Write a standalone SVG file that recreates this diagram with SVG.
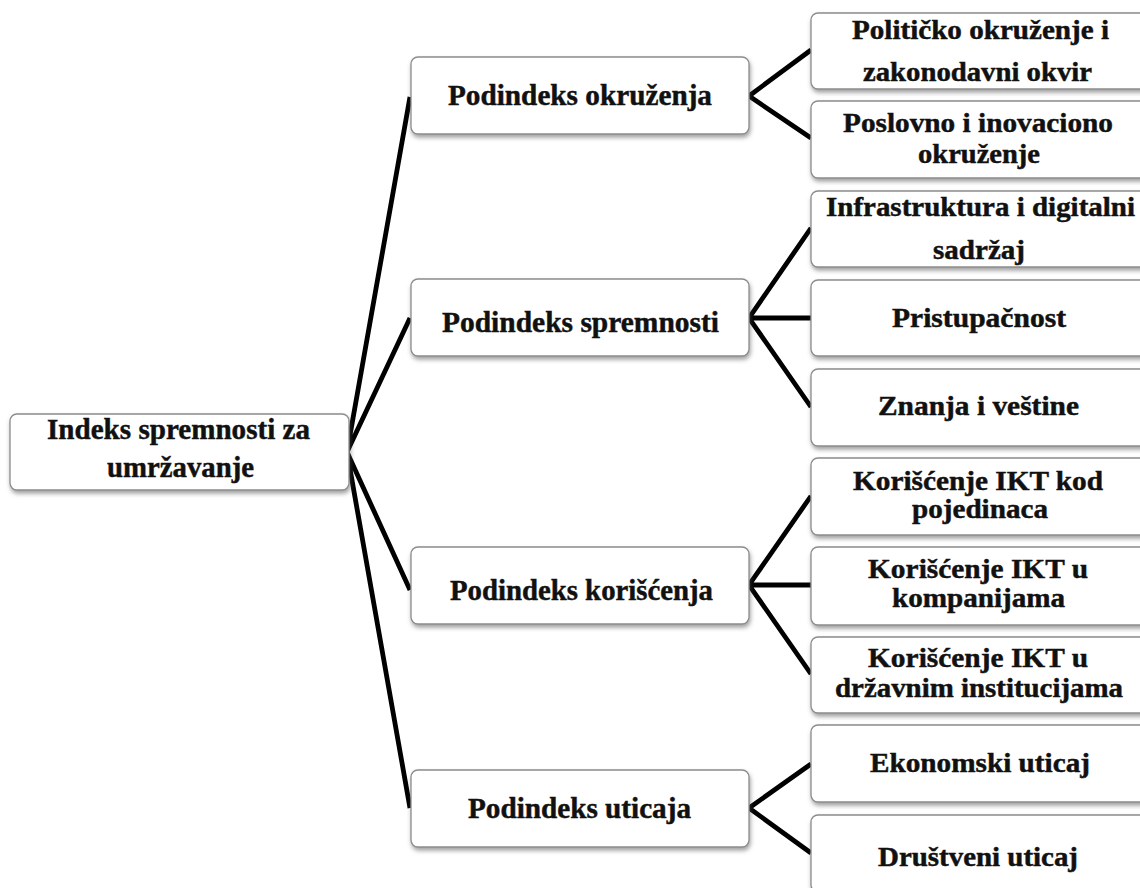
<svg xmlns="http://www.w3.org/2000/svg" width="1140" height="888" viewBox="0 0 1140 888">
<defs>
<filter id="sh" x="-5%" y="-10%" width="110%" height="130%">
<feDropShadow dx="1" dy="3" stdDeviation="2" flood-color="#555" flood-opacity="0.55"/>
</filter>
<style>
.box{fill:#fff;stroke:#8c8c8c;stroke-width:1.3;filter:url(#sh)}
.t{font-family:"Liberation Serif","Times New Roman",serif;font-weight:bold;fill:#111;stroke:#111;stroke-width:0.45}
.m{font-size:29px}
.r{font-size:27px}
.c{stroke:#000;stroke-width:4.8;fill:none;stroke-linejoin:miter}
</style>
</defs>
<rect width="1140" height="888" fill="#fff"/>
<g id="connectors">
<path class="c" d="M410,97 L347,452 L410,318 M347,452 L410,590 M347,452 L410,808"/>
<path class="c" d="M811,50 L749,96 L811,138"/>
<path class="c" d="M811,228 L749,318 L811,407 M749,318 L811,318"/>
<path class="c" d="M811,496 L749,585 L811,674 M749,585 L811,585"/>
<path class="c" d="M811,764 L749,808 L811,853"/>
</g>
<g id="root">
<rect class="box" x="10" y="414" width="339" height="76" rx="7"/>
<text class="t m" x="47" y="439" textLength="263" lengthAdjust="spacingAndGlyphs">Indeks spremnosti za</text>
<text class="t m" x="107" y="477" textLength="147" lengthAdjust="spacingAndGlyphs">umržavanje</text>
</g>
<g id="n-okruzenja">
<rect class="box" x="411" y="57" width="338" height="77" rx="7"/>
<text class="t m" x="448" y="105" textLength="264" lengthAdjust="spacingAndGlyphs">Podindeks okruženja</text>
</g>
<g id="n-spremnosti">
<rect class="box" x="411" y="279" width="338" height="77" rx="7"/>
<text class="t m" x="442" y="332" textLength="277" lengthAdjust="spacingAndGlyphs">Podindeks spremnosti</text>
</g>
<g id="n-koriscenja">
<rect class="box" x="411" y="547" width="338" height="77" rx="7"/>
<text class="t m" x="450" y="600" textLength="263" lengthAdjust="spacingAndGlyphs">Podindeks korišćenja</text>
</g>
<g id="n-uticaja">
<rect class="box" x="411" y="770" width="338" height="77" rx="7"/>
<text class="t m" x="468" y="818" textLength="223" lengthAdjust="spacingAndGlyphs">Podindeks uticaja</text>
</g>
<g id="r-politicko">
<rect class="box" x="811" y="13" width="345" height="76" rx="7"/>
<text class="t r" x="852" y="39" textLength="257" lengthAdjust="spacingAndGlyphs">Političko okruženje i</text>
<text class="t r" x="863" y="81" textLength="229" lengthAdjust="spacingAndGlyphs">zakonodavni okvir</text>
</g>
<g id="r-poslovno">
<rect class="box" x="811" y="101" width="345" height="77" rx="7"/>
<text class="t r" x="843" y="132" textLength="270" lengthAdjust="spacingAndGlyphs">Poslovno i inovaciono</text>
<text class="t r" x="918" y="163" textLength="122" lengthAdjust="spacingAndGlyphs">okruženje</text>
</g>
<g id="r-infrastruktura">
<rect class="box" x="811" y="191" width="345" height="76" rx="7"/>
<text class="t r" x="826" y="216" textLength="309" lengthAdjust="spacingAndGlyphs">Infrastruktura i digitalni</text>
<text class="t r" x="933" y="259" textLength="92" lengthAdjust="spacingAndGlyphs">sadržaj</text>
</g>
<g id="r-pristupacnost">
<rect class="box" x="811" y="280" width="345" height="76" rx="7"/>
<text class="t r" x="892" y="327" textLength="174" lengthAdjust="spacingAndGlyphs">Pristupačnost</text>
</g>
<g id="r-znanja">
<rect class="box" x="811" y="369" width="345" height="77" rx="7"/>
<text class="t r" x="878" y="415" textLength="201" lengthAdjust="spacingAndGlyphs">Znanja i veštine</text>
</g>
<g id="r-pojedinci">
<rect class="box" x="811" y="458" width="345" height="77" rx="7"/>
<text class="t r" x="853" y="490" textLength="250" lengthAdjust="spacingAndGlyphs">Korišćenje IKT kod</text>
<text class="t r" x="912" y="518" textLength="136" lengthAdjust="spacingAndGlyphs">pojedinaca</text>
</g>
<g id="r-kompanije">
<rect class="box" x="811" y="547" width="345" height="78" rx="7"/>
<text class="t r" x="868" y="578" textLength="220" lengthAdjust="spacingAndGlyphs">Korišćenje IKT u</text>
<text class="t r" x="892" y="607" textLength="173" lengthAdjust="spacingAndGlyphs">kompanijama</text>
</g>
<g id="r-drzava">
<rect class="box" x="811" y="637" width="345" height="76" rx="7"/>
<text class="t r" x="868" y="667" textLength="220" lengthAdjust="spacingAndGlyphs">Korišćenje IKT u</text>
<text class="t r" x="835" y="697" textLength="288" lengthAdjust="spacingAndGlyphs">državnim institucijama</text>
</g>
<g id="r-ekonomski">
<rect class="box" x="811" y="725" width="345" height="77" rx="7"/>
<text class="t r" x="870" y="772" textLength="220" lengthAdjust="spacingAndGlyphs">Ekonomski uticaj</text>
</g>
<g id="r-drustveni">
<rect class="box" x="811" y="815" width="345" height="77" rx="7"/>
<text class="t r" x="878" y="866" textLength="200" lengthAdjust="spacingAndGlyphs">Društveni uticaj</text>
</g>
</svg>
